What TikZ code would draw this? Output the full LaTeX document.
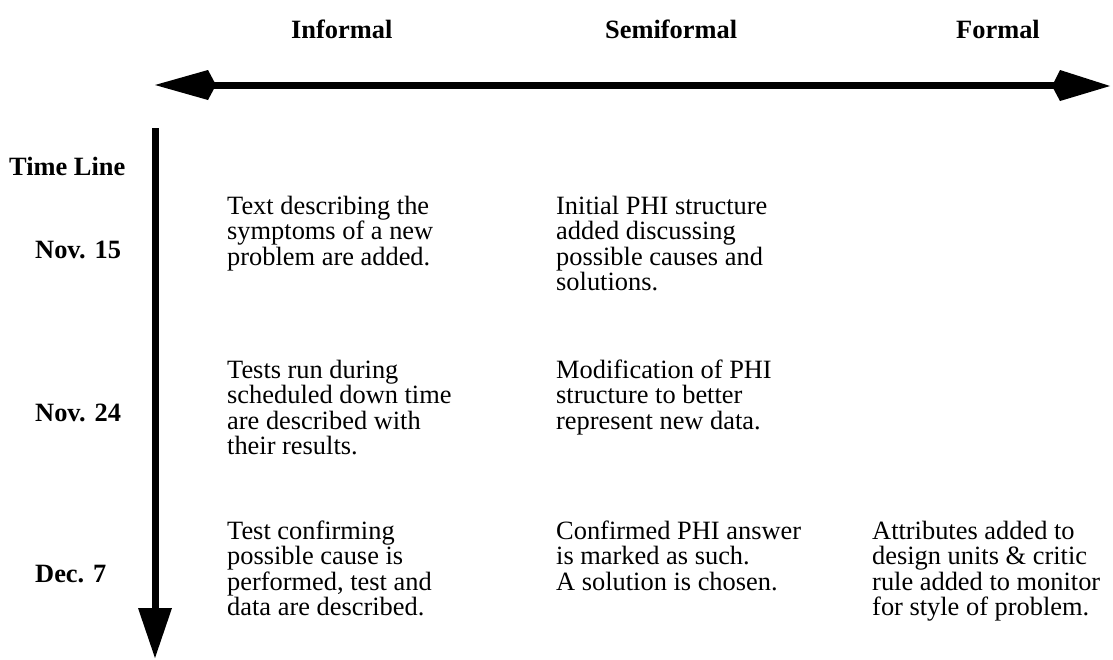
\documentclass[tikz,border=0pt]{standalone}
\usepackage{fontspec}
\setmainfont{Liberation Serif}
% stacked lines of a table cell, baseline at the first line
\newcommand\celllines[1]{\parbox[t]{320pt}{#1}}
\begin{document}
\begin{tikzpicture}[x=1pt,y=-1pt,
  hdr/.style={anchor=base west, inner sep=0pt, font=\fontsize{26.4}{26}\selectfont\bfseries},
  cell/.style={anchor=base west, inner sep=0pt, font=\fontsize{26.4}{25.6}\selectfont},
  shaft/.style={line width=7pt, black},
  head/.style={fill=black, draw=none}]
\useasboundingbox (0,0) rectangle (1113,659);

% column headings
\node[hdr] (informal)   at (291,38) {Informal};
\node[hdr] (semiformal) at (605,38) {Semiformal};
\node[hdr] (formal)     at (956,38) {Formal};

% formality axis (double-headed)
\coordinate (axL) at (214,85);
\coordinate (axR) at (1055,85);
\draw[shaft] (axL) -- (axR);
\fill[head] (155,85) -- (208,70) -- (216,85) -- (208,100) -- cycle;
\fill[head] (1110,86) -- (1060,70) -- (1052,86) -- (1060,101) -- cycle;

% time axis
\coordinate (tTop) at (155,128);
\coordinate (tBot) at (155,610);
\draw[shaft] (tTop) -- (tBot);
\fill[head] (138,608) -- (172,608) -- (155,658) -- cycle;

% row labels
\node[hdr] (timeline) at (9,175) {Time Line};
\node[hdr] (nov15) at (35,258) {Nov. 15};
\node[hdr] (nov24) at (35,421) {Nov. 24};
\node[hdr] (dec7)  at (35,582) {Dec. 7};

% cells
\node[cell] (r1c1) at (227,214) {\celllines{Text describing the\\symptoms of a new\\problem are added.}};
\node[cell] (r1c2) at (556,214) {\celllines{Initial PHI structure\\added discussing\\possible causes and\\solutions.}};
\node[cell] (r2c1) at (227,378) {\celllines{Tests run during\\scheduled down time\\are described with\\their results.}};
\node[cell] (r2c2) at (556,378) {\celllines{Modification of PHI\\structure to better\\represent new data.}};
\node[cell] (r3c1) at (227,539) {\celllines{Test confirming\\possible cause is\\performed, test and\\data are described.}};
\node[cell] (r3c2) at (556,539) {\celllines{Confirmed PHI answer\\is marked as such.\\A solution is chosen.}};
\node[cell] (r3c3) at (872,539) {\celllines{Attributes added to\\design units \& critic\\rule added to monitor\\for style of problem.}};
\end{tikzpicture}
\end{document}
